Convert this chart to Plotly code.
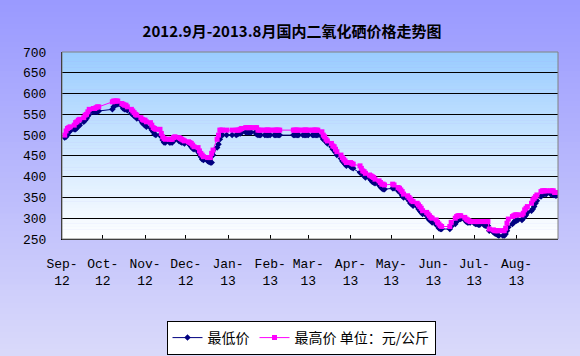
import pandas as pd
import plotly.graph_objects as go

# ---------------- data ----------------
holidays = ["2012-10-01", "2012-10-02", "2012-10-03", "2012-10-04", "2012-10-05",
            "2013-01-01", "2013-01-02", "2013-01-03",
            "2013-02-11", "2013-02-12", "2013-02-13", "2013-02-14", "2013-02-15",
            "2013-04-04", "2013-04-05", "2013-04-29", "2013-04-30", "2013-05-01",
            "2013-06-10", "2013-06-11", "2013-06-12"]
dates = [d for d in pd.bdate_range("2012-09-03", "2013-08-30")
         if d.strftime("%Y-%m-%d") not in holidays]

low_price = [
    494, 496, 500, 508, 510, 514, 514, 518, 522, 524, 532, 536, 540, 546, 550, 556, 556, 556, 556, 558,
    562, 568, 572, 574, 574, 570, 564, 562, 562, 560, 552, 550, 546, 544, 540, 536, 530, 526,
    524, 520, 518, 512, 508, 502, 500, 500, 496, 488, 482, 482, 482, 482, 482, 486, 490, 486, 484, 482, 482, 480,
    480, 476, 472, 468, 466, 460, 456, 448, 442, 440, 438, 436, 434, 434, 452, 470, 478, 490, 500, 500, 500,
    500, 500, 502, 504, 504, 506, 507, 507, 507, 507, 507, 507, 502, 500, 500, 500, 500, 500, 500, 500,
    500, 500, 500, 500, 500, 500, 500, 500, 500, 500, 500, 500, 500, 500, 500,
    500, 500, 500, 500, 500, 500, 496, 490, 488, 484, 480, 472, 466, 464, 458, 452, 444, 438, 434, 430, 426,
    424, 422, 420, 410, 408, 406, 402, 398, 396, 392, 388, 386, 384, 380, 376, 372, 370, 370,
    372, 372, 366, 364, 360, 354, 350, 346, 342, 336, 334, 330, 328, 322, 318, 314, 310, 306, 300, 296, 294, 290,
    284, 282, 276, 274, 274, 274, 280, 286, 292, 296, 298, 298, 296, 292, 290, 290, 290,
    288, 286, 286, 284, 284, 284, 282, 282, 282, 270, 266, 264, 262, 260, 258, 258, 258, 262, 270, 278, 286, 290, 294,
    294, 296, 296, 300, 304, 308, 314, 318, 322, 328, 336, 342, 352, 356, 358, 358, 358, 358, 358, 356, 356, 354,
]
high_price = [
    500, 510, 516, 518, 520, 524, 530, 532, 536, 538, 542, 548, 550, 556, 562, 564, 564, 566, 568, 568,
    580, 582, 582, 582, 582, 576, 574, 572, 572, 568, 562, 558, 554, 550, 548, 542, 538, 536,
    536, 532, 530, 524, 518, 516, 514, 514, 504, 496, 492, 490, 490, 490, 490, 494, 496, 494, 492, 490, 488, 486,
    484, 482, 480, 476, 472, 470, 462, 456, 452, 448, 446, 446, 446, 456, 464, 490, 500, 512, 512, 512, 512,
    512, 512, 512, 512, 514, 516, 518, 518, 518, 518, 518, 518, 518, 512, 512, 512, 512, 512, 512, 512,
    512, 512, 512, 512, 512, 512, 512, 512, 512, 512, 512, 512, 512, 512, 512,
    512, 512, 512, 512, 512, 512, 508, 500, 496, 490, 486, 480, 474, 472, 466, 460, 452, 446, 442, 438, 434,
    434, 432, 430, 426, 420, 414, 412, 408, 404, 402, 400, 398, 394, 390, 386, 382, 382, 380,
    382, 380, 374, 372, 368, 364, 358, 354, 350, 346, 342, 340, 336, 332, 328, 324, 318, 314, 310, 306, 302, 300,
    296, 290, 286, 282, 280, 280, 290, 300, 304, 306, 306, 306, 302, 298, 296, 294, 292,
    292, 292, 292, 292, 292, 292, 292, 292, 292, 274, 272, 270, 270, 270, 270, 270, 270, 276, 288, 298, 304, 306, 308,
    308, 308, 308, 312, 320, 324, 328, 336, 344, 348, 352, 356, 364, 366, 366, 366, 366, 366, 366, 366, 362, 362,
]
if not (len(dates) == len(low_price) == len(high_price)):
    raise SystemExit(f"length mismatch: dates={len(dates)} low={len(low_price)} high={len(high_price)}")

month_ticks = ["2012-09-01", "2012-10-01", "2012-11-01", "2012-12-01", "2013-01-01", "2013-02-01",
               "2013-03-01", "2013-04-01", "2013-05-01", "2013-06-01", "2013-07-01", "2013-08-01"]
month_labels = ["Sep-<br>12", "Oct-<br>12", "Nov-<br>12", "Dec-<br>12", "Jan-<br>13", "Feb-<br>13",
                "Mar-<br>13", "Apr-<br>13", "May-<br>13", "Jun-<br>13", "Jul-<br>13", "Aug-<br>13"]
y_ticks = [250, 300, 350, 400, 450, 500, 550, 600, 650, 700]

series_names = ["最低价", "最高价 单位：元/公斤"]
title_text = "2012.9月-2013.8月国内二氧化硒价格走势图"

# ---------------- figure ----------------
W, H = 580, 356
ML, MR, MT, MB = 62, 22, 52, 117
pw, ph = W - ML - MR, H - MT - MB

CJK = "Noto Sans CJK SC"
MONO = "Liberation Mono"

fig = go.Figure()
fig.add_trace(go.Scatter(
    x=dates, y=low_price, name=series_names[0], mode="lines+markers",
    line=dict(color="#000080", width=1),
    marker=dict(symbol="diamond", size=5, color="#000080"),
))
fig.add_trace(go.Scatter(
    x=dates, y=high_price, name=series_names[1], mode="lines+markers",
    line=dict(color="#FF00FF", width=1),
    marker=dict(symbol="square", size=5, color="#FF00FF"),
))


def lerp(c1, c2, t):
    return "rgb(%d,%d,%d)" % tuple(round(a + (b - a) * t) for a, b in zip(c1, c2))


shapes = []
# figure background gradient (paper coords extended to full figure)
N = 60
x0p, x1p = -ML / pw, (pw + MR) / pw
top_p, bot_p = (ph + MT) / ph, -MB / ph
for i in range(N):
    t0 = i / N
    t1 = (i + 1) / N
    shapes.append(dict(type="rect", xref="paper", yref="paper", layer="below",
                       x0=x0p, x1=x1p,
                       y0=top_p + (bot_p - top_p) * t1 - 0.002, y1=top_p + (bot_p - top_p) * t0 + 0.002,
                       fillcolor=lerp((153, 153, 255), (218, 218, 250), (i + 0.5) / N),
                       line=dict(width=0)))
# plot area gradient
for i in range(N):
    t0 = i / N
    t1 = (i + 1) / N
    shapes.append(dict(type="rect", xref="x domain", yref="y domain", layer="below",
                       x0=0, x1=1, y0=1 - t1 - 0.001, y1=1 - t0 + 0.001,
                       fillcolor=lerp((153, 204, 255), (255, 255, 255), (i + 0.5) / N),
                       line=dict(width=0)))
# grey frame on top/right
shapes.append(dict(type="rect", xref="x domain", yref="y domain", layer="above",
                   x0=0, x1=1, y0=0, y1=1, line=dict(color="#808080", width=1),
                   fillcolor="rgba(0,0,0,0)"))

fig.update_layout(
    width=W, height=H,
    margin=dict(l=ML, r=MR, t=MT, b=MB, autoexpand=False),
    paper_bgcolor="#B8B8FA",
    plot_bgcolor="rgba(0,0,0,0)",
    shapes=shapes,
    title=dict(text=title_text, x=292 / W, xref="container", xanchor="center",
               y=1 - 32 / H, yref="container", yanchor="middle",
               font=dict(family=CJK, size=15, color="black", weight="bold")),
    xaxis=dict(
        type="date", range=["2012-09-01", "2013-08-31 12:00"],
        tickmode="array", tickvals=month_ticks, ticktext=month_labels,
        ticks="inside", ticklen=4, tickcolor="black",
        showgrid=False, zeroline=False,
        showline=True, linecolor="black", linewidth=1,
        tickfont=dict(family=MONO, size=13, color="black"),
        ticklabelstandoff=12, automargin=False,
    ),
    yaxis=dict(
        range=[250, 700], tickmode="array", tickvals=y_ticks,
        showgrid=True, gridcolor="black", gridwidth=1,
        zeroline=False, showline=True, linecolor="black", linewidth=1,
        ticks="", tickfont=dict(family=MONO, size=13, color="black"),
        ticklabelstandoff=12, automargin=False,
    ),
    legend=dict(
        orientation="h", xref="container", x=301 / W, xanchor="center",
        yref="container", y=1 - 321 / H, yanchor="top",
        bgcolor="white", bordercolor="black", borderwidth=1,
        font=dict(family=CJK, size=14, color="black"),
        itemwidth=30, tracegroupgap=0,
    ),
    showlegend=True,
)

fig.write_html("out.html", config={"displayModeBar": False},
               post_script="document.body.style.margin='0';document.body.style.overflow='hidden';")
